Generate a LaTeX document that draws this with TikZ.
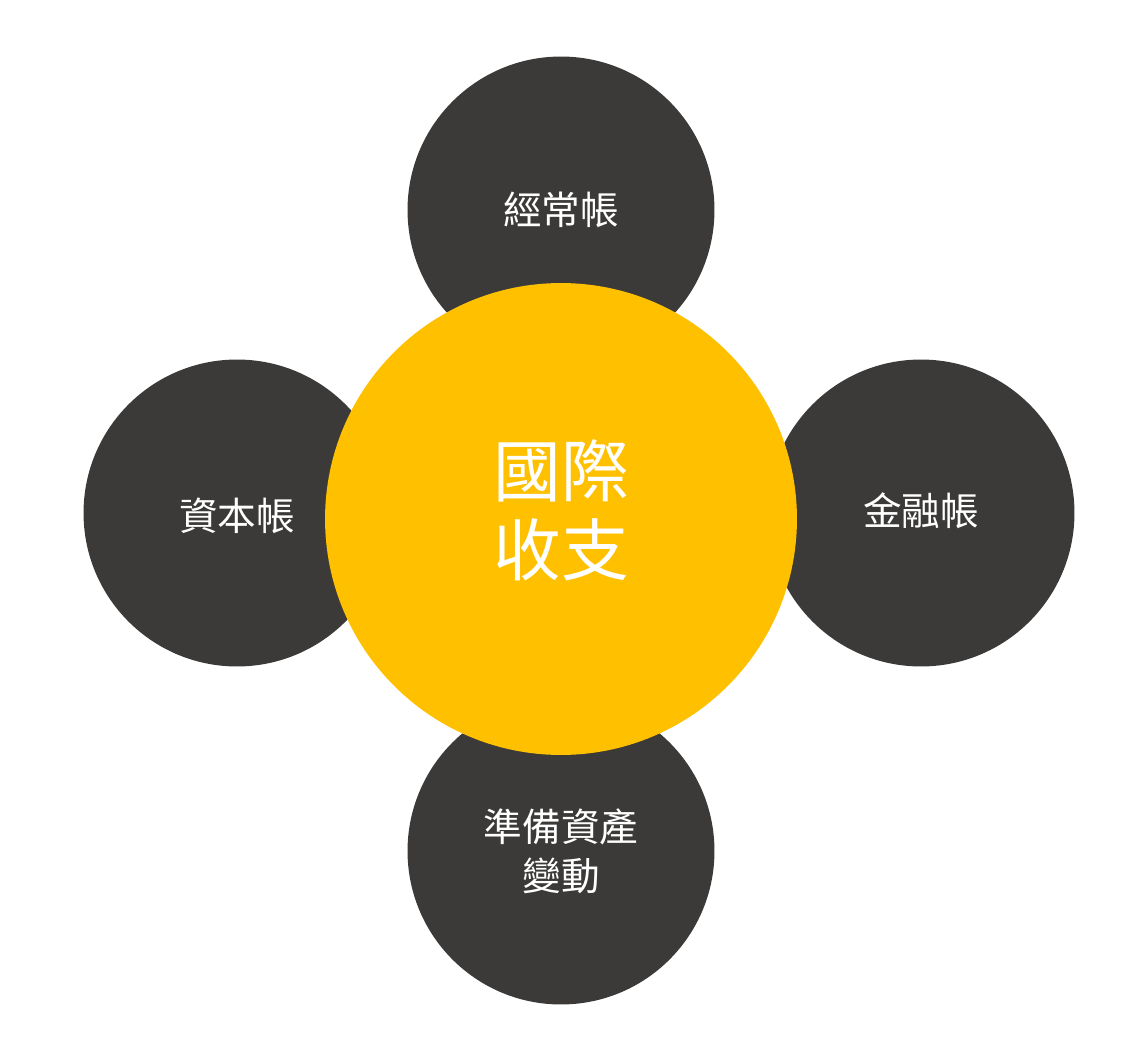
\documentclass[tikz,border=0pt]{standalone}
\usepackage{fontspec}
\setmainfont{Noto Sans CJK TC}
\definecolor{darkc}{HTML}{3B3A39}
\definecolor{goldc}{HTML}{FFC000}
\begin{document}
\begin{tikzpicture}[x=0.02cm,y=-0.02cm,
  outer/.style={circle,fill=darkc,draw=none,minimum size=6.14cm,inner sep=0pt},
  inner/.style={circle,fill=goldc,draw=none,minimum size=9.44cm,inner sep=0pt},
  lbl/.style={text=white,font=\fontsize{22}{28}\selectfont,align=center},
  biglbl/.style={text=white,font=\fontsize{38.5}{45}\selectfont,align=center}]
\useasboundingbox (0,0) rectangle (1135,1044);
\fill[white] (0,0) rectangle (1135,1044);
\node[outer] (top) at (561,210) {};
\node[outer] (left) at (237,513) {};
\node[outer] (right) at (921,513) {};
\node[outer] (bottom) at (561,851) {};
\node[lbl] at (top.center) {經常帳};
\node[lbl] at ([yshift=-0.06cm]left.center) {資本帳};
\node[lbl] at ([yshift=0.04cm]right.center) {金融帳};
\node[lbl] at (bottom.center) {準備資產\\變動};
\node[inner] (center) at (561,519) {};
\node[biglbl] at ([yshift=0.18cm]center.center) {國際\\收支};
\end{tikzpicture}
\end{document}
